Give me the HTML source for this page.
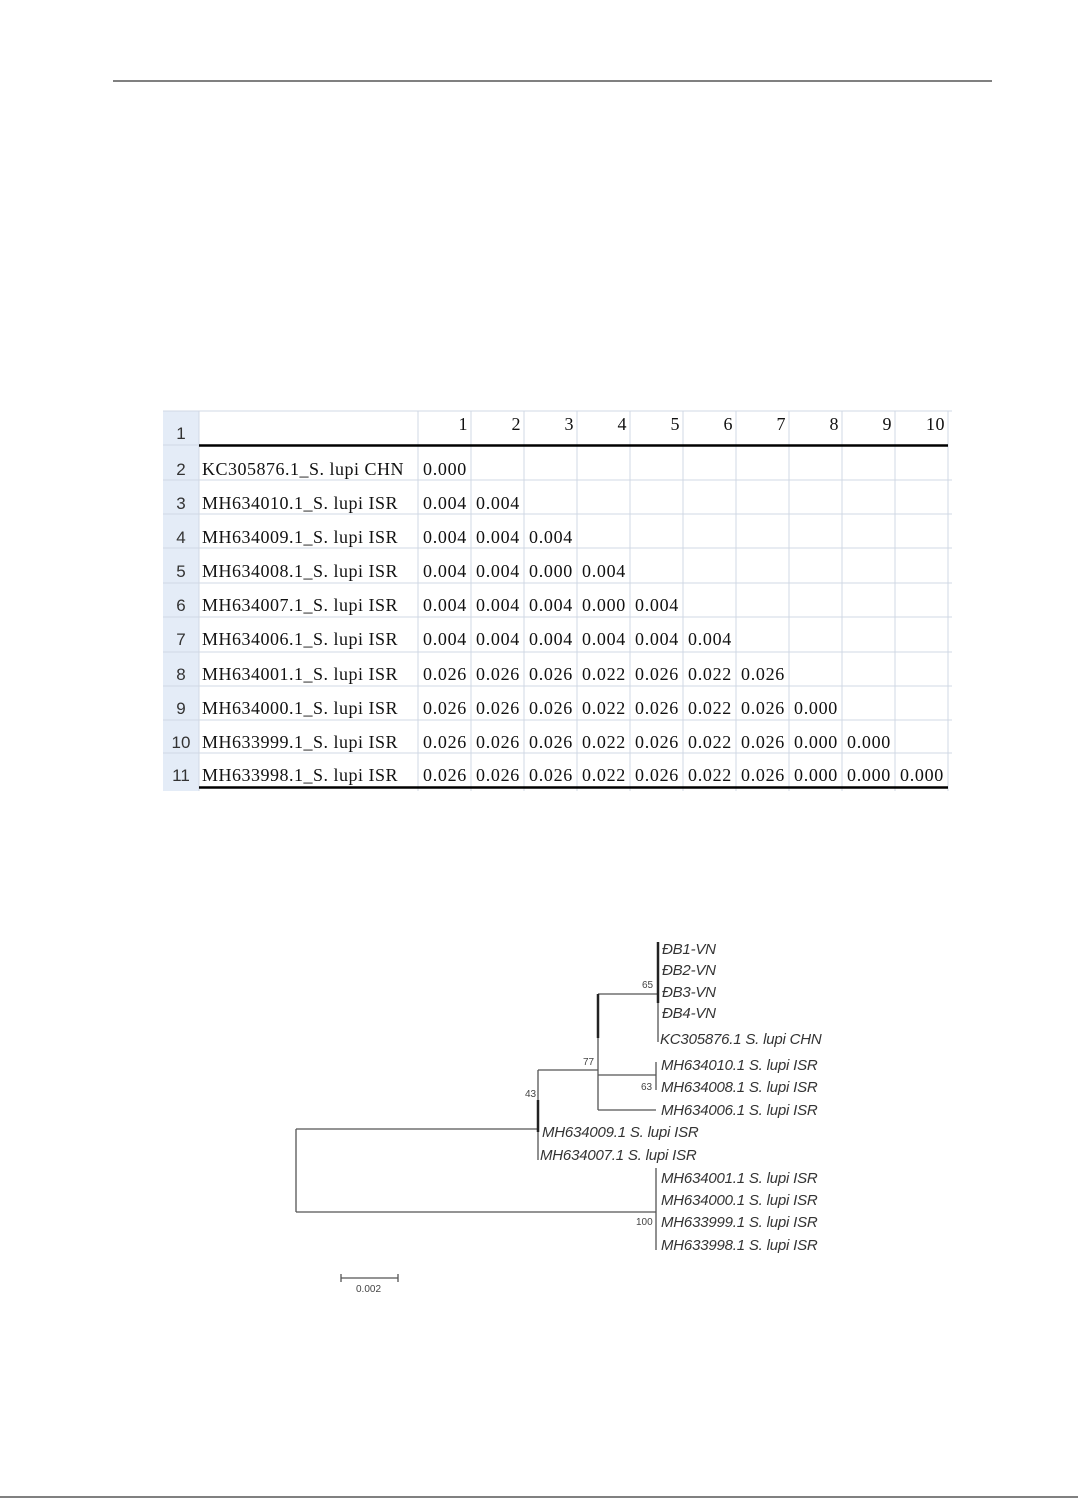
<!DOCTYPE html>
<html><head><meta charset="utf-8"><style>
html,body{margin:0;padding:0;background:#fff;}
svg{display:block;}
.t{font-family:"Liberation Serif",serif;font-size:18px;fill:#111;letter-spacing:0.5px;}
.n{letter-spacing:0.7px;}
.rn{font-family:"Liberation Sans",sans-serif;font-size:17px;fill:#333;}
.l{font-family:"Liberation Sans",sans-serif;font-style:italic;font-size:15px;fill:#333;letter-spacing:-0.2px;}
.b{font-family:"Liberation Sans",sans-serif;font-size:10px;fill:#444;}
</style></head><body>
<svg width="1078" height="1498" viewBox="0 0 1078 1498" xmlns="http://www.w3.org/2000/svg">
<line x1="113" y1="81" x2="992" y2="81" stroke="#000" stroke-width="1"/>
<line x1="0" y1="1497" x2="1078" y2="1497" stroke="#000" stroke-width="1"/>
<rect x="163" y="411" width="36" height="380" fill="#e4ecf7"/>
<g stroke="#d0d8e4" stroke-width="1">
<line x1="163" y1="411" x2="952" y2="411"/>
<line x1="163" y1="480" x2="952" y2="480"/><line x1="163" y1="514" x2="952" y2="514"/>
<line x1="163" y1="548" x2="952" y2="548"/><line x1="163" y1="583" x2="952" y2="583"/>
<line x1="163" y1="617" x2="952" y2="617"/><line x1="163" y1="652" x2="952" y2="652"/>
<line x1="163" y1="686" x2="952" y2="686"/><line x1="163" y1="720" x2="952" y2="720"/>
<line x1="163" y1="753" x2="952" y2="753"/>
<line x1="163" y1="445" x2="199" y2="445"/>
<line x1="199" y1="411" x2="199" y2="791"/>
<line x1="418" y1="411" x2="418" y2="791"/><line x1="471" y1="411" x2="471" y2="791"/>
<line x1="524" y1="411" x2="524" y2="791"/><line x1="577" y1="411" x2="577" y2="791"/>
<line x1="630" y1="411" x2="630" y2="791"/><line x1="683" y1="411" x2="683" y2="791"/>
<line x1="736" y1="411" x2="736" y2="791"/><line x1="789" y1="411" x2="789" y2="791"/>
<line x1="842" y1="411" x2="842" y2="791"/><line x1="895" y1="411" x2="895" y2="791"/>
<line x1="948" y1="411" x2="948" y2="791"/>
</g>
<line x1="199" y1="445.5" x2="948" y2="445.5" stroke="#000" stroke-width="2.5"/>
<line x1="199" y1="787.5" x2="948" y2="787.5" stroke="#000" stroke-width="2.5"/>
<g class="rn" text-anchor="middle">
<text x="181" y="439">1</text><text x="181" y="475">2</text><text x="181" y="509">3</text>
<text x="181" y="543">4</text><text x="181" y="577">5</text><text x="181" y="611">6</text>
<text x="181" y="645">7</text><text x="181" y="680">8</text><text x="181" y="714">9</text>
<text x="181" y="748">10</text><text x="181" y="781">11</text>
</g>
<g class="t" text-anchor="end">
<text x="468" y="430">1</text><text x="521" y="430">2</text><text x="574" y="430">3</text>
<text x="627" y="430">4</text><text x="680" y="430">5</text><text x="733" y="430">6</text>
<text x="786" y="430">7</text><text x="839" y="430">8</text><text x="892" y="430">9</text>
<text x="945" y="430">10</text>
</g>
<g class="t">
<text x="202" y="475">KC305876.1_S. lupi CHN</text>
<text x="202" y="509">MH634010.1_S. lupi ISR</text>
<text x="202" y="543">MH634009.1_S. lupi ISR</text>
<text x="202" y="577">MH634008.1_S. lupi ISR</text>
<text x="202" y="611">MH634007.1_S. lupi ISR</text>
<text x="202" y="645">MH634006.1_S. lupi ISR</text>
<text x="202" y="680">MH634001.1_S. lupi ISR</text>
<text x="202" y="714">MH634000.1_S. lupi ISR</text>
<text x="202" y="748">MH633999.1_S. lupi ISR</text>
<text x="202" y="781">MH633998.1_S. lupi ISR</text>
</g>
<g class="t n">
<text x="423" y="475">0.000</text>
<text x="423" y="509">0.004</text><text x="476" y="509">0.004</text>
<text x="423" y="543">0.004</text><text x="476" y="543">0.004</text><text x="529" y="543">0.004</text>
<text x="423" y="577">0.004</text><text x="476" y="577">0.004</text><text x="529" y="577">0.000</text><text x="582" y="577">0.004</text>
<text x="423" y="611">0.004</text><text x="476" y="611">0.004</text><text x="529" y="611">0.004</text><text x="582" y="611">0.000</text><text x="635" y="611">0.004</text>
<text x="423" y="645">0.004</text><text x="476" y="645">0.004</text><text x="529" y="645">0.004</text><text x="582" y="645">0.004</text><text x="635" y="645">0.004</text><text x="688" y="645">0.004</text>
<text x="423" y="680">0.026</text><text x="476" y="680">0.026</text><text x="529" y="680">0.026</text><text x="582" y="680">0.022</text><text x="635" y="680">0.026</text><text x="688" y="680">0.022</text><text x="741" y="680">0.026</text>
<text x="423" y="714">0.026</text><text x="476" y="714">0.026</text><text x="529" y="714">0.026</text><text x="582" y="714">0.022</text><text x="635" y="714">0.026</text><text x="688" y="714">0.022</text><text x="741" y="714">0.026</text><text x="794" y="714">0.000</text>
<text x="423" y="748">0.026</text><text x="476" y="748">0.026</text><text x="529" y="748">0.026</text><text x="582" y="748">0.022</text><text x="635" y="748">0.026</text><text x="688" y="748">0.022</text><text x="741" y="748">0.026</text><text x="794" y="748">0.000</text><text x="847" y="748">0.000</text>
<text x="423" y="781">0.026</text><text x="476" y="781">0.026</text><text x="529" y="781">0.026</text><text x="582" y="781">0.022</text><text x="635" y="781">0.026</text><text x="688" y="781">0.022</text><text x="741" y="781">0.026</text><text x="794" y="781">0.000</text><text x="847" y="781">0.000</text><text x="900" y="781">0.000</text>
</g>
<g stroke="#555" stroke-width="1.3" fill="none">
<line x1="296" y1="1129" x2="296" y2="1212"/>
<line x1="296" y1="1129" x2="538" y2="1129"/>
<line x1="296" y1="1212" x2="656" y2="1212"/>
<line x1="656" y1="1168" x2="656" y2="1250"/>
<line x1="538" y1="1070" x2="538" y2="1160"/>
<line x1="538" y1="1070" x2="598" y2="1070"/>
<line x1="598" y1="994" x2="598" y2="1110"/>
<line x1="598" y1="994" x2="658" y2="994"/>
<line x1="658" y1="942" x2="658" y2="1042"/>
<line x1="598" y1="1075" x2="656" y2="1075"/>
<line x1="656" y1="1062" x2="656" y2="1090"/>
<line x1="598" y1="1110" x2="656" y2="1110"/>
<line x1="341" y1="1278" x2="398" y2="1278"/>
<line x1="341" y1="1274" x2="341" y2="1282"/>
<line x1="398" y1="1274" x2="398" y2="1282"/>
</g>
<g stroke="#222" stroke-width="2.5">
<line x1="658" y1="942" x2="658" y2="1003"/>
<line x1="598" y1="994" x2="598" y2="1038"/>
<line x1="538" y1="1100" x2="538" y2="1132"/>
</g>
<g class="l">
<text x="662" y="954">ĐB1-VN</text><text x="662" y="975">ĐB2-VN</text>
<text x="662" y="997">ĐB3-VN</text><text x="662" y="1018">ĐB4-VN</text>
<text x="660" y="1044">KC305876.1  S. lupi CHN</text>
<text x="661" y="1070">MH634010.1 S. lupi ISR</text>
<text x="661" y="1092">MH634008.1 S. lupi ISR</text>
<text x="661" y="1115">MH634006.1 S. lupi ISR</text>
<text x="542" y="1137">MH634009.1 S. lupi ISR</text>
<text x="540" y="1160">MH634007.1 S. lupi ISR</text>
<text x="661" y="1183">MH634001.1 S. lupi ISR</text>
<text x="661" y="1205">MH634000.1 S. lupi ISR</text>
<text x="661" y="1227">MH633999.1 S. lupi ISR</text>
<text x="661" y="1250">MH633998.1 S. lupi ISR</text>
</g>
<g class="b">
<text x="642" y="988">65</text><text x="583" y="1065">77</text>
<text x="525" y="1097">43</text><text x="641" y="1090">63</text>
<text x="636" y="1225">100</text><text x="356" y="1292">0.002</text>
</g>
</svg>
</body></html>
